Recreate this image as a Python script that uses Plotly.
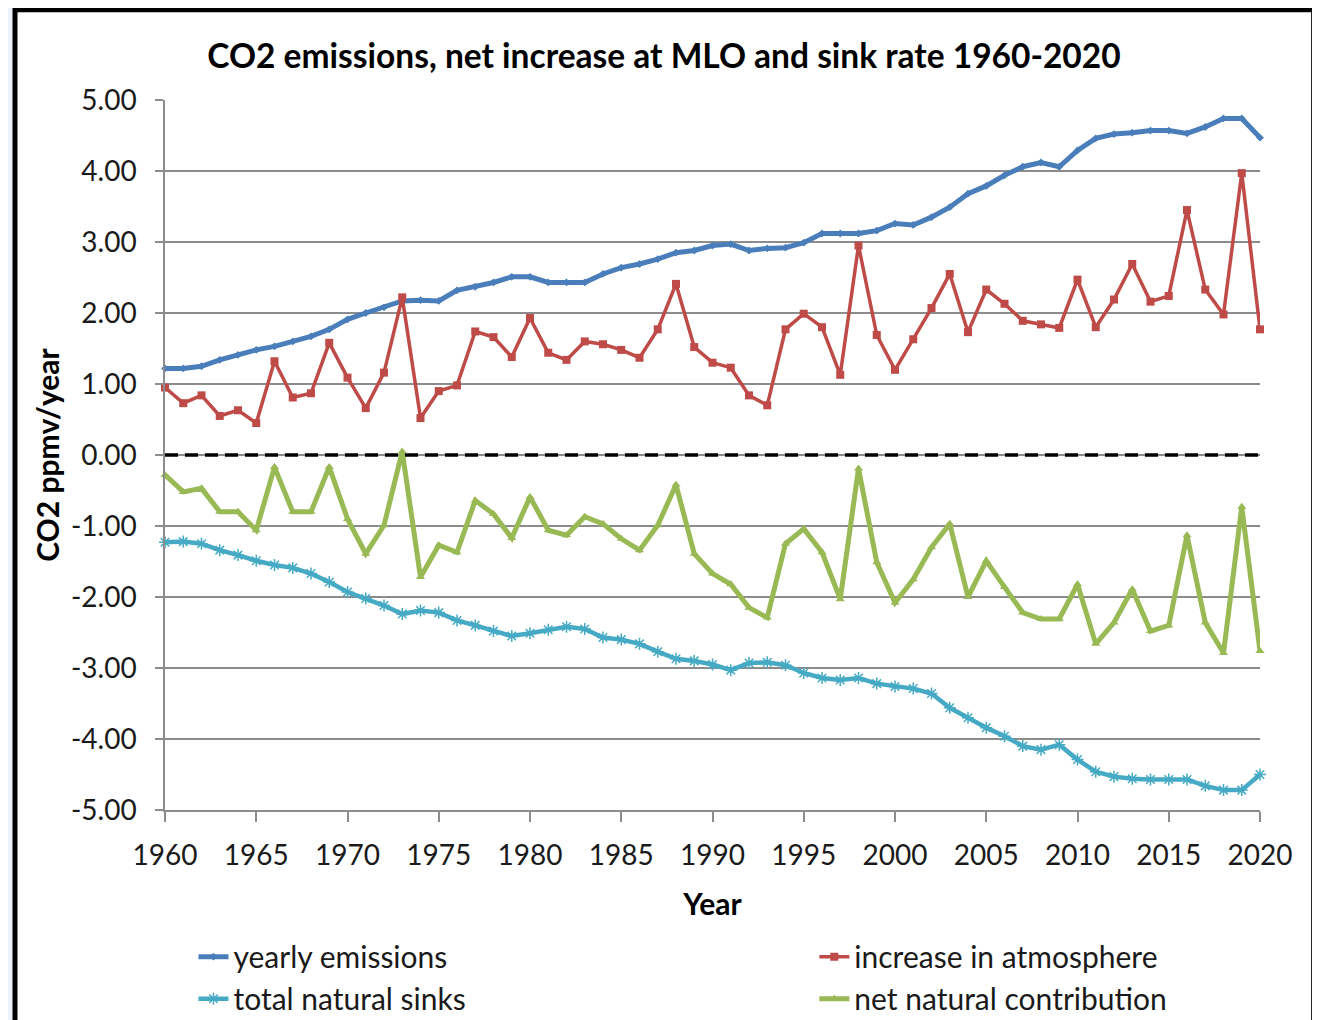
"""CO2 emissions vs. net increase at MLO and natural sink rate, 1960-2020."""

import plotly.graph_objects as go

BLUE = "#4a7ebb"
RED = "#be4b48"
GREEN = "#98b954"
CYAN = "#46aac5"
GRID = "#8c8c8c"
FONT = "Lato, 'Open Sans', sans-serif"

years = list(range(1960, 2021))

y_ticks = [5, 4, 3, 2, 1, 0, -1, -2, -3, -4, -5]
y_labels = ["5.00", "4.00", "3.00", "2.00", "1.00", "0.00",
            "-1.00", "-2.00", "-3.00", "-4.00", "-5.00"]

emissions = [
    1.22, 1.22, 1.25, 1.34, 1.41, 1.48, 1.53, 1.60, 1.67, 1.77,
    1.91, 2.00, 2.08, 2.17, 2.18, 2.17, 2.32, 2.37, 2.43, 2.51,
    2.51, 2.43, 2.43, 2.43, 2.55, 2.64, 2.69, 2.76, 2.85, 2.88,
    2.95, 2.97, 2.88, 2.91, 2.92, 2.99, 3.12, 3.12, 3.12, 3.16,
    3.26, 3.24, 3.35, 3.49, 3.68, 3.79, 3.94, 4.06, 4.12, 4.06,
    4.29, 4.46, 4.52, 4.54, 4.57, 4.57, 4.53, 4.62, 4.74, 4.74,
    4.47,
]

increase = [
    0.95, 0.73, 0.84, 0.55, 0.63, 0.45, 1.32, 0.81, 0.87, 1.58,
    1.09, 0.66, 1.16, 2.22, 0.52, 0.90, 0.98, 1.74, 1.66, 1.38,
    1.93, 1.44, 1.34, 1.60, 1.56, 1.48, 1.37, 1.77, 2.41, 1.52,
    1.30, 1.23, 0.84, 0.70, 1.77, 1.99, 1.80, 1.13, 2.95, 1.69,
    1.20, 1.63, 2.07, 2.55, 1.73, 2.33, 2.13, 1.89, 1.84, 1.79,
    2.47, 1.80, 2.19, 2.69, 2.16, 2.24, 3.45, 2.33, 1.98, 3.97,
    1.77,
]

sinks = [
    -1.23, -1.22, -1.25, -1.34, -1.41, -1.49, -1.55, -1.59, -1.67, -1.79,
    -1.93, -2.02, -2.12, -2.24, -2.19, -2.22, -2.33, -2.40, -2.48, -2.55,
    -2.51, -2.46, -2.42, -2.45, -2.57, -2.60, -2.66, -2.77, -2.87, -2.90,
    -2.95, -3.03, -2.93, -2.92, -2.96, -3.07, -3.14, -3.17, -3.14, -3.22,
    -3.26, -3.29, -3.36, -3.56, -3.70, -3.84, -3.96, -4.10, -4.15, -4.08,
    -4.29, -4.46, -4.53, -4.56, -4.57, -4.57, -4.57, -4.66, -4.72, -4.72,
    -4.50,
]

net_natural = [
    -0.28, -0.52, -0.47, -0.80, -0.80, -1.06, -0.17, -0.80, -0.80, -0.17,
    -0.90, -1.39, -0.99, 0.05, -1.72, -1.27, -1.37, -0.64, -0.83, -1.17,
    -0.59, -1.06, -1.13, -0.87, -0.97, -1.18, -1.34, -0.99, -0.42, -1.39,
    -1.67, -1.82, -2.15, -2.29, -1.25, -1.04, -1.37, -2.03, -0.19, -1.51,
    -2.08, -1.75, -1.30, -0.97, -2.00, -1.49, -1.86, -2.22, -2.31, -2.31,
    -1.82, -2.66, -2.36, -1.89, -2.48, -2.40, -1.13, -2.36, -2.79, -0.73,
    -2.76,
]

fig = go.Figure()

# white chart card with a black frame on the light slide background
fig.add_shape(type="rect", xref="paper", yref="paper",
              x0=-0.137, x1=1.049, y0=-0.33, y1=1.127,
              line=dict(color="black", width=5), fillcolor="white", layer="below")

fig.add_hline(y=0, line=dict(color="black", width=3.5, dash="13px,7px"))

# left column of the legend: emissions / sinks, right column: increase / net
fig.add_scatter(x=years, y=emissions, name="yearly emissions", mode="lines+markers",
                line=dict(color=BLUE, width=5), marker=dict(symbol="diamond", size=6, color=BLUE),
                cliponaxis=False, legend="legend")
fig.add_scatter(x=years, y=increase, name="increase in atmosphere", mode="lines+markers",
                line=dict(color=RED, width=3.5), marker=dict(symbol="square", size=8, color=RED),
                cliponaxis=False, legend="legend2")
fig.add_scatter(x=years, y=sinks, name="total natural sinks", mode="lines+markers",
                line=dict(color=CYAN, width=4.5),
                marker=dict(symbol="asterisk-open", size=10, color=CYAN, line=dict(color=CYAN, width=1.5)),
                cliponaxis=False, legend="legend")
fig.add_scatter(x=years, y=net_natural, name="net natural contribution", mode="lines+markers",
                line=dict(color=GREEN, width=5), marker=dict(symbol="triangle-up", size=8, color=GREEN),
                cliponaxis=False, legend="legend2")

legend_style = dict(orientation="v", yanchor="top", y=-0.17, xanchor="left",
                    bgcolor="rgba(0,0,0,0)", tracegroupgap=0,
                    font=dict(family=FONT, size=30, color="#1a1a1a"))

fig.update_layout(
    width=1312, height=1012,
    margin=dict(l=157, r=60, t=92, b=210, autoexpand=False),
    paper_bgcolor="#eef3fb", plot_bgcolor="white",
    font=dict(family=FONT, size=28, color="#1a1a1a"),
    title=dict(text="<b>CO2 emissions, net increase at MLO and sink rate 1960-2020</b>",
               x=0.5, xref="container", xanchor="center", y=0.952, yanchor="middle",
               font=dict(family=FONT, size=33.5, color="black")),
    legend=dict(legend_style, x=0.026),
    legend2=dict(legend_style, x=0.593),
)

fig.update_xaxes(range=[1960, 2020], dtick=5, tick0=1960, showgrid=False,
                 showline=True, linecolor=GRID, linewidth=1.5,
                 ticks="outside", ticklen=10, tickcolor=GRID, tickwidth=1.5,
                 ticklabelstandoff=10,
                 title=dict(text="<b>Year</b>", standoff=24, font=dict(size=30, color="black")))
fig.update_yaxes(range=[-5, 5], tickvals=y_ticks, ticktext=y_labels, showgrid=True,
                 gridcolor=GRID, gridwidth=1.5, zeroline=False,
                 showline=True, linecolor=GRID, linewidth=1.5,
                 ticks="outside", ticklen=8, tickcolor=GRID, tickwidth=1.5,
                 ticklabelstandoff=13,
                 title=dict(text="<b>CO2 ppmv/year</b>", standoff=2, font=dict(size=30, color="black")))

fig.write_html("out.html")
